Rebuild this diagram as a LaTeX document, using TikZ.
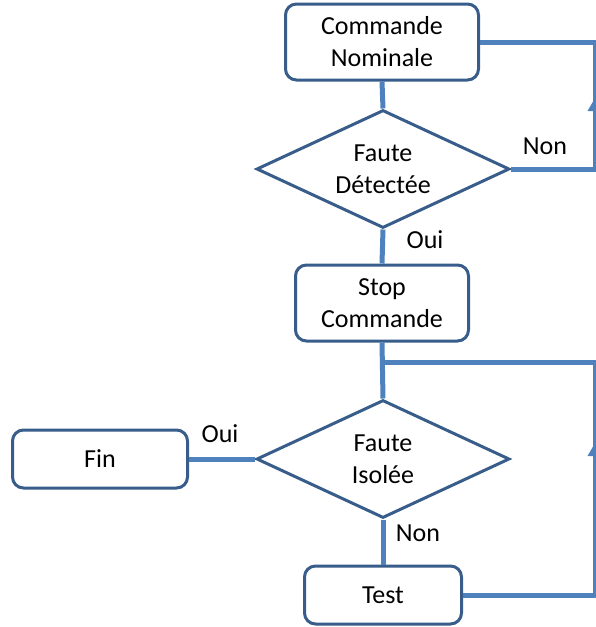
\documentclass[tikz,border=0pt]{standalone}
\usepackage{fontspec}
\setmainfont{Carlito}
\usetikzlibrary{shapes.geometric,arrows.meta}

\definecolor{boxblue}{RGB}{56,93,138}
\definecolor{lineblue}{RGB}{79,129,189}

\tikzset{
  stepbox/.style={draw=boxblue, line width=3pt, rounded corners=11pt, fill=white,
    align=center, inner sep=0pt},
  test/.style={draw=boxblue, line width=3pt, diamond, fill=white, align=center,
    inner sep=0pt, minimum width=253pt, minimum height=118pt, aspect=2.14},
  conn/.style={draw=lineblue, line width=5pt},
  upward/.style={conn, -{Triangle[length=13pt,width=14pt]}},
  lbl/.style={inner sep=0pt}
}

\begin{document}
\begin{tikzpicture}[x=1pt, y=-1pt, font=\fontsize{26}{32}\selectfont]

\useasboundingbox (0,0) rectangle (595,627);

    %boxes
    \node[stepbox, minimum width=193pt, minimum height=76pt] (nominal) at (382,42) {Commande\\Nominale};
    \node[test] (detect) at (383,169) {Faute\\Détectée};
    \node[stepbox, minimum width=173pt, minimum height=76pt] (stop) at (382,303) {Stop\\Commande};
    \node[test] (isolated) at (383,459) {Faute\\Isolée};
    \node[stepbox, minimum width=175pt, minimum height=58pt] (fin) at (100,459) {Fin};
    \node[stepbox, minimum width=157pt, minimum height=58pt] (trial) at (383,595) {Test};

    %loop corners
    \coordinate (topright) at (595,42);
    \coordinate (midright) at (595,169);
    \coordinate (join) at (382,362);
    \coordinate (joinright) at (595,362);
    \coordinate (lowright) at (595,595);

    %connectors
    \draw[conn] (nominal.south) -- (detect.north);
    \draw[conn] (detect.south) -- (stop.north);
    \draw[conn] (stop.south) -- (isolated.north);
    \draw[conn] (isolated.west) -- (fin.east);
    \draw[conn] (isolated.south) -- (trial.north);
    \draw[conn] (nominal.east) -- (topright) -- (midright) -- (detect.east);
    \draw[conn] (join) -- (joinright) -- (lowright) -- (trial.east);
    \draw[upward] (midright) -- (595,98);
    \draw[upward] (lowright) -- (595,443);

    %labels
    \node[lbl] (non1) at (545,146) {Non};
    \node[lbl] (oui1) at (425,240) {Oui};
    \node[lbl] (oui2) at (220,434) {Oui};
    \node[lbl] (non2) at (418,533) {Non};

\end{tikzpicture}
\end{document}
